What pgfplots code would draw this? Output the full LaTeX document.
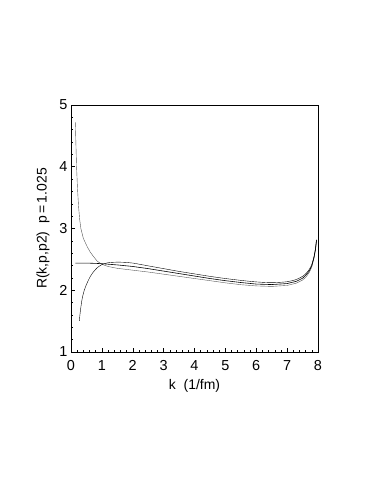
\documentclass[border=0pt]{standalone}
\usepackage{fontspec}
\setmainfont{Liberation Sans}
\usepackage{pgfplots}
\pgfplotsset{compat=1.18}
\begin{document}
\begin{tikzpicture}[x=1bp,y=1bp]
\path[use as bounding box] (0,0) rectangle (382,494);
\begin{axis}[
  at={(71bp,142bp)}, anchor=south west,
  scale only axis, width=247bp, height=247bp,
  xmin=0, xmax=8, ymin=1, ymax=5,
  xtick={0,...,8}, ytick={1,...,5},
  minor x tick num=4, minor y tick num=4,
  tick align=inside, xtick pos=bottom, ytick pos=left,
  major tick length=4bp, minor tick length=2bp,
  axis line style={line width=0.9pt},
  every tick/.style={line width=0.5pt, black},
  /pgf/number format/assume math mode=true,
  ticklabel style={font=\fontsize{14.5}{16}\selectfont},
  xticklabel style={yshift=-5bp},
  label style={font=\fontsize{14}{16}\selectfont},
  xlabel={k\ \ (1/fm)}, ylabel={R(k,p,p2)\ \ p$\,$=$\,$1.025},
  xlabel style={yshift=-2bp},
  ylabel style={yshift=3bp},
  no markers,
  cycle list={{black!65, line width=0.6pt, smooth, mark=none}},
]
% curve from above (ends lowest)
\addplot coordinates {
(0.14,4.72) (0.16,4.35) (0.18,4.0) (0.21,3.65) (0.246,3.35) (0.28,3.15) (0.32,3.0)
(0.40,2.84) (0.52,2.71) (0.62,2.62) (0.73,2.545) (0.85,2.47) (1.0,2.42)
(1.2,2.385) (1.5,2.355) (2,2.325) (2.5,2.295) (3,2.26) (3.5,2.225) (4,2.19)
(4.5,2.155) (5,2.12) (5.5,2.09) (6,2.07) (6.5,2.062) (7,2.078) (7.3,2.115)
(7.5,2.165) (7.62,2.22) (7.72,2.29) (7.8,2.38) (7.87,2.52) (7.92,2.66) (7.95,2.80)
};
% flat curve (middle)
\addplot coordinates {
(0.14,2.44) (0.5,2.44) (0.8,2.435) (1.0,2.43) (1.5,2.41) (2,2.385) (2.5,2.35)
(3,2.31) (3.5,2.27) (4,2.23) (4.5,2.19) (5,2.155) (5.5,2.125) (6,2.10)
(6.5,2.092) (7,2.108) (7.3,2.145) (7.5,2.195) (7.62,2.25) (7.72,2.315)
(7.8,2.40) (7.87,2.53) (7.92,2.67) (7.95,2.81)
};
% curve from below (ends highest)
\addplot coordinates {
(0.27,1.505) (0.30,1.65) (0.355,1.845) (0.43,2.0) (0.52,2.115) (0.60,2.2)
(0.70,2.28) (0.84,2.36) (1.0,2.415) (1.2,2.445) (1.5,2.455) (1.8,2.45) (2,2.44)
(2.5,2.395) (3,2.35) (3.5,2.305) (4,2.265) (4.5,2.225) (5,2.19) (5.5,2.16)
(6,2.135) (6.5,2.123) (7,2.138) (7.3,2.175) (7.5,2.225) (7.62,2.275) (7.72,2.34)
(7.8,2.42) (7.87,2.545) (7.92,2.68) (7.95,2.82)
};
\end{axis}
\end{tikzpicture}
\end{document}
